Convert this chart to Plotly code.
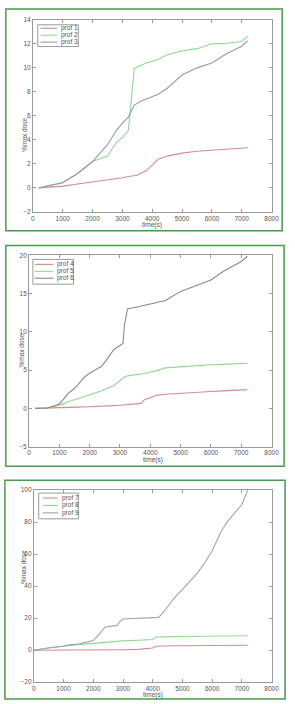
import plotly.graph_objects as go

# ---------------- data ----------------
t1 = [200, 1000, 1500, 2000, 2500, 2800, 3000, 3200, 3400, 3500, 3600, 3800, 4000, 4200, 4500, 5000, 5500, 6000, 6500, 7000, 7200]
prof1 = [0, 0.15, 0.33, 0.5, 0.62, 0.72, 0.85, 0.95, 1.0, 1.05, 1.2, 1.42, 1.9, 2.38, 2.65, 2.9, 3.05, 3.15, 3.25, 3.3, 3.35]
prof2 = [0, 0.4, 1.2, 2.2, 2.65, 3.8, 4.2, 4.8, 9.95, 10.1, 10.2, 10.4, 10.55, 10.7, 11.1, 11.4, 11.6, 12.0, 12.05, 12.2, 12.65]
prof3 = [0, 0.45, 1.2, 2.2, 3.6, 4.8, 5.4, 5.9, 6.9, 7.05, 7.2, 7.4, 7.6, 7.8, 8.3, 9.4, 10.0, 10.4, 11.2, 11.8, 12.25]

t2 = [200, 600, 900, 1000, 1100, 1300, 1500, 1600, 1800, 2000, 2300, 2400, 2800, 3000, 3100, 3150, 3250, 3600, 3700, 3800, 4000, 4200, 4500, 5000, 5500, 6000, 6400, 7000, 7200]
prof4 = [0, 0.02, 0.04, 0.05, 0.07, 0.1, 0.14, 0.16, 0.18, 0.2, 0.25, 0.27, 0.35, 0.4, 0.45, 0.47, 0.5, 0.6, 0.65, 1.1, 1.4, 1.7, 1.85, 2.0, 2.1, 2.2, 2.28, 2.4, 2.45]
prof5 = [0, 0.05, 0.3, 0.4, 0.55, 0.85, 1.1, 1.25, 1.55, 1.8, 2.1, 2.3, 3.0, 3.7, 4.0, 4.1, 4.25, 4.4, 4.45, 4.55, 4.75, 4.9, 5.3, 5.45, 5.55, 5.7, 5.75, 5.85, 5.9]
prof6 = [0, 0.05, 0.4, 0.6, 1.0, 2.0, 2.6, 3.0, 4.0, 4.6, 5.3, 5.5, 7.7, 8.3, 8.5, 11.0, 13.0, 13.3, 13.4, 13.5, 13.6, 13.8, 14.1, 15.3, 16.0, 16.8, 17.9, 19.2, 19.9]

t3 = [0, 500, 1000, 1200, 1500, 1800, 2000, 2200, 2400, 2800, 2900, 3000, 3500, 3800, 3950, 4000, 4100, 4200, 4400, 4700, 5000, 5500, 5800, 6000, 6300, 6500, 7000, 7200]
prof7 = [0, 0, 0, 0, 0, 0, 0, 0.1, 0.15, 0.25, 0.3, 0.3, 0.5, 0.8, 1.0, 1.4, 2.5, 2.6, 2.7, 2.75, 2.8, 2.9, 2.95, 3.0, 3.05, 3.05, 3.1, 3.1]
prof8 = [0, 1.5, 2.6, 3.0, 3.5, 4.1, 4.5, 4.8, 5.0, 5.5, 5.7, 5.8, 6.2, 6.5, 6.6, 6.7, 8.2, 8.3, 8.4, 8.45, 8.5, 8.6, 8.65, 8.7, 8.8, 8.85, 8.9, 9.0]
prof9 = [0, 1.5, 2.5, 3.3, 3.8, 5.0, 6.0, 10.0, 14.5, 15.5, 18.0, 19.5, 20.0, 20.1, 20.1, 20.2, 20.3, 20.5, 24.5, 32.0, 38.0, 48.0, 56.0, 62.0, 74.0, 80.0, 91.0, 100.0]

x_ticks = [0, 1000, 2000, 3000, 4000, 5000, 6000, 7000, 8000]

RED = "#d48c8c"
GREEN = "#8fd88f"
PURPLE = "#9a96b4"
DARK = "#8a8496"
GRAY = "#a2a2aa"

W, H = 295, 704
def px(x):
    return x / W
def py(y):
    return 1 - y / H

FONT = dict(size=6.5, color="#555", family="Arial")

fig = go.Figure()

panels = [
    dict(t=t1, series=[("prof 1", prof1, RED), ("prof 2", prof2, GREEN), ("prof 3", prof3, PURPLE)],
         yr=[-2, 14], dt=2, xd=[32, 279], yd=[210, 16],
         legbox=(37, 21, 79, 43), legline=(40, 57), legy=[24.5, 31.5, 38.5],
         xtitle=(155, 223.5), ytitle=(18, 113)),
    dict(t=t2, series=[("prof 4", prof4, RED), ("prof 5", prof5, GREEN), ("prof 6", prof6, DARK)],
         yr=[-5, 20], dt=5, xd=[28, 279], yd=[447, 254],
         legbox=(32, 258, 74, 283), legline=(34, 53), legy=[263, 270, 277],
         xtitle=(156, 460.5), ytitle=(15, 350)),
    dict(t=t3, series=[("prof 7", prof7, RED), ("prof 8", prof8, GREEN), ("prof 9", prof9, GRAY)],
         yr=[-20, 100], dt=20, xd=[33, 279], yd=[685, 491],
         legbox=(38, 494, 79, 520), legline=(42, 58), legy=[499, 506.5, 514],
         xtitle=(156, 698), ytitle=(16, 588)),
]

ax = dict(showline=True, linecolor="#9a9a9a", linewidth=1, mirror="ticks",
          ticks="inside", ticklen=3, tickcolor="#9a9a9a", showgrid=False,
          zeroline=False, tickfont=FONT)

for i, p in enumerate(panels):
    n = "" if i == 0 else str(i + 1)
    for name, ys, col in p["series"]:
        fig.add_trace(go.Scatter(x=p["t"], y=ys, mode="lines", name=name,
                                 line=dict(color=col, width=1.1),
                                 xaxis="x" + n, yaxis="y" + n, showlegend=False))
    fig.update_layout(**{
        "xaxis" + n: dict(ax, domain=[px(p["xd"][0]), px(p["xd"][1])], range=[0, 8000],
                          tickvals=x_ticks, anchor="y" + n),
        "yaxis" + n: dict(ax, domain=[py(p["yd"][0]), py(p["yd"][1])], range=p["yr"],
                          dtick=p["dt"], anchor="x" + n),
    })
    # legend box (drawn manually to match compact MATLAB legend)
    bx0, by0, bx1, by1 = p["legbox"]
    fig.add_shape(type="rect", xref="paper", yref="paper",
                  x0=px(bx0), x1=px(bx1), y0=py(by1), y1=py(by0),
                  line=dict(color="#9a9a9a", width=1), fillcolor="white", layer="above")
    lx0, lx1 = p["legline"]
    for (name, ys, col), ly in zip(p["series"], p["legy"]):
        fig.add_shape(type="line", xref="paper", yref="paper",
                      x0=px(lx0), x1=px(lx1), y0=py(ly), y1=py(ly),
                      line=dict(color=col, width=1.1), layer="above")
        fig.add_annotation(x=px(lx1 + 2), y=py(ly), xref="paper", yref="paper",
                           text=name, showarrow=False, xanchor="left", yanchor="middle",
                           font=FONT)
    xt, yt = p["xtitle"]
    fig.add_annotation(x=px(xt), y=py(yt), xref="paper", yref="paper", text="time(s)",
                       showarrow=False, yanchor="middle", font=FONT)
    yx, yy = p["ytitle"]
    fig.add_annotation(x=px(yx), y=py(yy), xref="paper", yref="paper", text="%max dose",
                       textangle=-90, showarrow=False, font=FONT)

# green frames around panels
frames = [(4, 5, 290, 229), (4, 244, 292, 467), (3, 481, 293, 702)]
for x0, y0, x1, y1 in frames:
    fig.add_shape(type="rect", xref="paper", yref="paper",
                  x0=px(x0), x1=px(x1), y0=py(y1), y1=py(y0),
                  line=dict(color="#4a9a4a", width=1.5))

fig.update_layout(width=W, height=H, margin=dict(l=0, r=0, t=0, b=0),
                  paper_bgcolor="white", plot_bgcolor="white", showlegend=False)

fig.write_html("out.html")
